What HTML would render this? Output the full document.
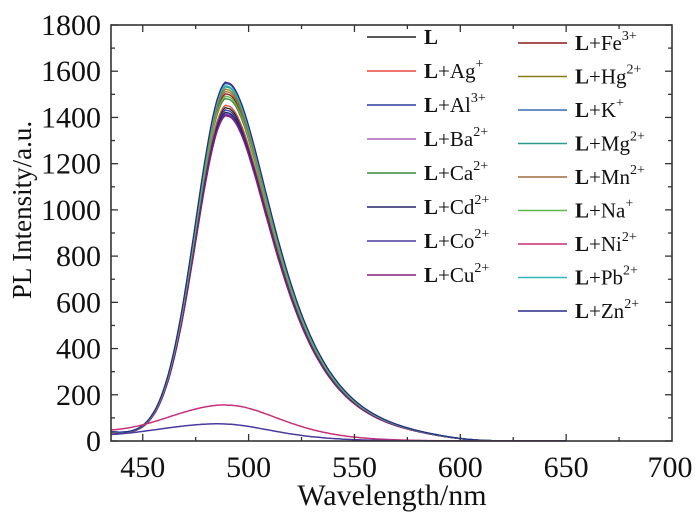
<!DOCTYPE html>
<html><head><meta charset="utf-8"><style>
html,body{margin:0;padding:0;background:#fff;}
svg{display:block;font-family:"Liberation Serif",serif;}
</style></head><body>
<svg id="s" width="700" height="516" viewBox="0 0 700 516" xmlns="http://www.w3.org/2000/svg">
<g id="curves"></g>
<rect x="111" y="25" width="561" height="416" fill="none" stroke="#333" stroke-width="1.6"/>
<g id="ticks" stroke="#333" stroke-width="1.3"></g>
<g id="labels" font-size="30" fill="#111"></g>
<text x="392" y="505" font-size="30" text-anchor="middle" fill="#111">Wavelength/nm</text>
<text transform="translate(31,210) rotate(-90)" font-size="27" text-anchor="middle" fill="#111">PL Intensity/a.u.</text>
<g id="legend" font-size="21" fill="#111"></g>
</svg>
<script>
var NS="http://www.w3.org/2000/svg";
function X(w){return 111+(w-435)*561/265;}
function Y(v){return 441-v*416/1800;}
function el(p,t,a,txt){var e=document.createElementNS(NS,t);for(var k in a)e.setAttribute(k,a[k]);if(txt!=null)e.textContent=txt;p.appendChild(e);return e;}
var T=document.getElementById('ticks'),L=document.getElementById('labels');
for(var v=0;v<=1800;v+=100){var y=Y(v),len=v%200==0?7:4;el(T,'line',{x1:111,x2:111+len,y1:y,y2:y});el(T,'line',{x1:672,x2:672-len,y1:y,y2:y});
 if(v%200==0)el(L,'text',{x:101,y:y+10,'text-anchor':'end'},String(v));}
for(var w=450;w<=675;w+=25){var x=X(w),len=w%50==0?7:4;el(T,'line',{x1:x,x2:x,y1:441,y2:441-len});el(T,'line',{x1:x,x2:x,y1:25,y2:25+len});
 if(w%50==0)el(L,'text',{x:x,y:477,'text-anchor':'middle'},String(w));}
el(L,'text',{x:670,y:477,'text-anchor':'middle'},'700');
function main(w,A){var d=w-490,g;if(d<0){g=Math.exp(-d*d/450)+0.025*Math.exp(-(w-435)/30);}else{var s=18+0.18*d;g=Math.exp(-d*d/(2*s*s))/(1+Math.exp((w-600)/8));}return A*g;}
function mag(w){var d=w-490;if(d<0)return 155*Math.exp(-d*d/(2*29*29))+22*Math.exp(-(w-435)/20);var s=22.5+0.1*d;return 155*Math.exp(-d*d/(2*s*s));}
function low(w){var d=w-487;if(d<0)return 74*Math.exp(-d*d/(2*32*32))+8*Math.exp(-(w-435)/20);var s=21.6+0.1*d;return 74*Math.exp(-d*d/(2*s*s));}
function path(f){var p='';for(var w=435;w<=650;w+=1){p+=(w==435?'M':'L')+X(w).toFixed(1)+','+Y(Math.max(f(w),0.3)).toFixed(1);}return p;}
var C=document.getElementById('curves');
var series=[['#222',1440],['#e8453a',1450],['#2a3a9a',1430],['#b060c0',1415],['#3a8a3a',1480],['#22226a',1420],['#4a3aa0',1410],['#8a1a7a',1405],['#8a1a1a',1500],['#8a7a1a',1520],['#3a6ab0',1545],['#2a9a8a',1530],['#a06a3a',1510],['#5ab84a',1490],['#30b8b0',1535],['#2a2a8a',1550]];
series.forEach(function(s){el(C,'path',{d:path(function(w){return main(w,s[1]);}),fill:'none',stroke:s[0],'stroke-width':1.3});});
el(C,'path',{d:path(mag),fill:'none',stroke:'#c8307a','stroke-width':1.5});
el(C,'path',{d:path(low),fill:'none',stroke:'#4a3aa0','stroke-width':1.5});
var G=document.getElementById('legend');
var c1=[['#222','',''],['#e8453a','Ag','+'],['#2a3a9a','Al','3+'],['#b060c0','Ba','2+'],['#3a8a3a','Ca','2+'],['#22226a','Cd','2+'],['#4a3aa0','Co','2+'],['#8a1a7a','Cu','2+']];
var c2=[['#8a1a1a','Fe','3+'],['#8a7a1a','Hg','2+'],['#3a6ab0','K','+'],['#2a9a8a','Mg','2+'],['#a06a3a','Mn','2+'],['#5ab84a','Na','+'],['#c8307a','Ni','2+'],['#30b8b0','Pb','2+'],['#2a2a8a','Zn','2+']];
function item(x,y,it){el(G,'line',{x1:x,x2:x+49,y1:y,y2:y,stroke:it[0],'stroke-width':1.5});
 var t=el(G,'text',{x:x+57,y:y+7});el(t,'tspan',{'font-weight':'bold'},'L');
 if(it[1]){el(t,'tspan',{},'+'+it[1]);el(t,'tspan',{dy:-10,'font-size':14},it[2]);}}
c1.forEach(function(it,i){item(367,37+i*34,it);});
c2.forEach(function(it,i){item(518,43+i*33.5,it);});
</script>
</body></html>
